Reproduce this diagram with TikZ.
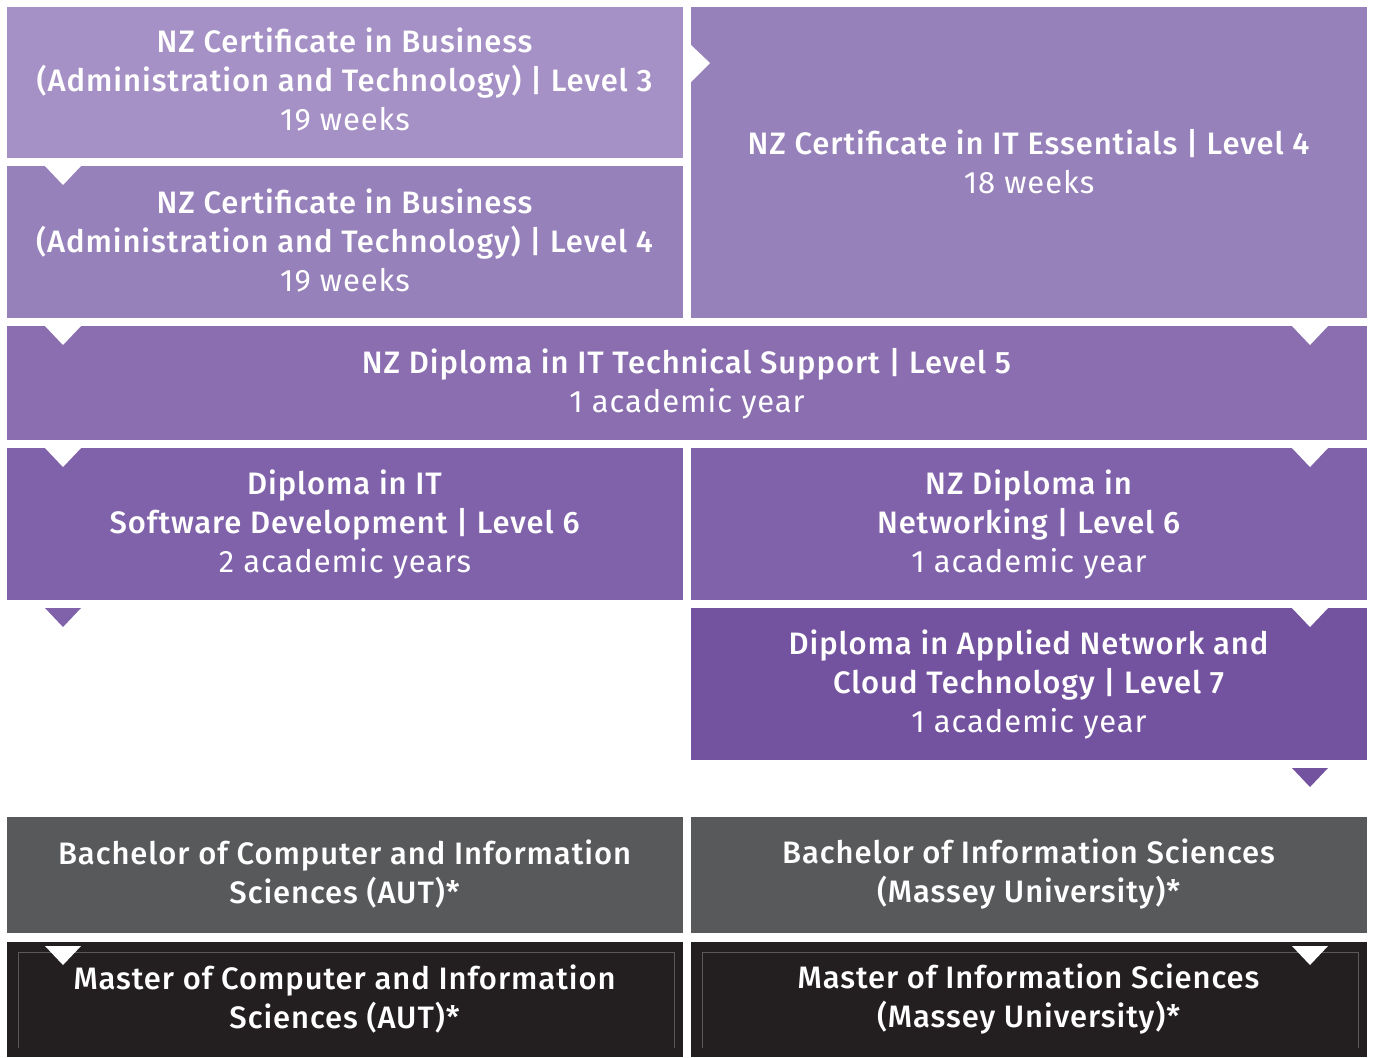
\documentclass[tikz,border=0pt]{standalone}
\usepackage{fontspec}
\setmainfont{Fira Sans}[BoldFont={Fira Sans Medium}, LetterSpace=3]
\definecolor{lvlA}{HTML}{A591C5}
\definecolor{lvlB}{HTML}{9681BA}
\definecolor{lvlC}{HTML}{8A6EB0}
\definecolor{lvlD}{HTML}{8062AB}
\definecolor{lvlE}{HTML}{73529F}
\definecolor{uniGray}{HTML}{58595B}
\definecolor{uniBlack}{HTML}{231F20}
\tikzset{
  label/.style={text=white, align=center, font=\fontsize{15.5}{19.5}\selectfont},
  pointer/.style={fill=white}
}
\newcommand{\down}[3]{\fill[#3] (#1-18,#2) -- (#1+18,#2) -- (#1,#2+19) -- cycle;}
\begin{document}
\begin{tikzpicture}[x=0.5pt,y=-0.5pt]
    \useasboundingbox (0,0) rectangle (1376,1057);

    % First Row
    \fill [lvlA] (7, 7) rectangle (683, 158);
    \fill [lvlB] (7, 166) rectangle (683, 318);
    \fill [lvlB] (691, 7) rectangle (1367, 318);

    % Second Row
    \fill [lvlC] (7, 326) rectangle (1367, 440);

    % Third Row
    \fill [lvlD] (7, 448) rectangle (683, 600);
    \fill [lvlD] (691, 448) rectangle (1367, 600);
    \fill [lvlE] (691, 608) rectangle (1367, 760);

    % University Rows
    \fill [uniGray] (7, 817) rectangle (683, 933);
    \fill [uniGray] (691, 817) rectangle (1367, 933);
    \fill [uniBlack] (7, 942) rectangle (683, 1057);
    \fill [uniBlack] (691, 942) rectangle (1367, 1057);
    \draw [gray!70!black, line width=0.4pt] (18, 1048) -- (18, 952) -- (674, 952) -- (674, 1048);
    \draw [gray!70!black, line width=0.4pt] (702, 1048) -- (702, 952) -- (1358, 952) -- (1358, 1048);

    % Pointers
    \fill [pointer] (691, 45) -- (710, 63) -- (691, 82) -- cycle;
    \down{63}{166}{pointer}
    \down{63}{326}{pointer}
    \down{1310}{326}{pointer}
    \down{63}{448}{pointer}
    \down{1310}{448}{pointer}
    \down{1310}{608}{pointer}
    \down{63}{608}{lvlD}
    \down{1310}{768}{lvlE}
    \down{63}{946}{pointer}
    \down{1310}{946}{pointer}

    % Draw the nodes
    \node [label] (busThree) at (345, 79) {\textbf{NZ Certificate in Business}\\\textbf{(Administration and Technology) | Level 3}\\19 weeks};
    \node [label] (busFour) at (345, 240) {\textbf{NZ Certificate in Business}\\\textbf{(Administration and Technology) | Level 4}\\19 weeks};
    \node [label] (itEss) at (1029, 162) {\textbf{NZ Certificate in IT Essentials | Level 4}\\18 weeks};
    \node [label] (techSup) at (687, 384) {\textbf{NZ Diploma in IT Technical Support | Level 5}\\1 academic year};
    \node [label] (softDev) at (345, 524) {\textbf{Diploma in IT}\\\textbf{Software Development | Level 6}\\2 academic years};
    \node [label] (netw) at (1029, 524) {\textbf{NZ Diploma in}\\\textbf{Networking | Level 6}\\1 academic year};
    \node [label] (cloud) at (1029, 684) {\textbf{Diploma in Applied Network and}\\\textbf{Cloud Technology | Level 7}\\1 academic year};
    \node [label] (bachAut) at (345, 874) {\textbf{Bachelor of Computer and Information}\\\textbf{Sciences (AUT)*}};
    \node [label] (bachMas) at (1029, 874) {\textbf{Bachelor of Information Sciences}\\\textbf{(Massey University)*}};
    \node [label] (mastAut) at (345, 999) {\textbf{Master of Computer and Information}\\\textbf{Sciences (AUT)*}};
    \node [label] (mastMas) at (1029, 999) {\textbf{Master of Information Sciences}\\\textbf{(Massey University)*}};
\end{tikzpicture}
\end{document}
